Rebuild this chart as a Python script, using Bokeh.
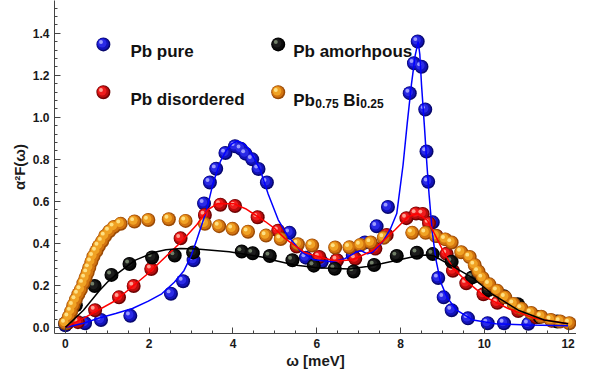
from bokeh.plotting import figure
from bokeh.models import ColumnDataSource, Range1d, FixedTicker, PrintfTickFormatter, Label
from bokeh.transform import dodge
from bokeh.embed import file_html
from bokeh.resources import INLINE

# ---------------- data ----------------
pure_x = [0.0, 0.47, 0.85, 1.55, 2.52, 2.81, 3.06, 3.31, 3.45, 3.60, 3.82, 4.05, 4.19, 4.30, 4.46,
          4.61, 4.81, 5.35, 5.74, 6.12, 6.48, 6.86, 7.15, 7.43, 7.70, 8.22, 8.32, 8.41, 8.50, 8.59,
          8.62, 8.66, 8.77, 8.90, 9.03, 9.22, 9.61, 10.08, 10.47, 11.05]
pure_y = [0.01, 0.02, 0.035, 0.055, 0.16, 0.22, 0.32, 0.59, 0.69, 0.755, 0.83, 0.862, 0.85, 0.827, 0.80,
          0.754, 0.69, 0.45, 0.332, 0.312, 0.32, 0.343, 0.404, 0.481, 0.573, 1.115, 1.257, 1.361, 1.241, 1.037,
          0.837, 0.693, 0.50, 0.235, 0.143, 0.082, 0.043, 0.02, 0.02, 0.017]

dis_x = [0.05, 0.3, 0.71, 1.28, 1.63, 2.05, 2.75, 3.33, 3.70, 4.05, 4.59, 5.08, 5.52, 6.06, 6.48, 6.92,
         7.40, 7.67, 8.14, 8.37, 8.53, 8.68, 8.86, 9.10, 9.25, 9.57, 9.98, 10.31, 10.81, 11.24, 11.61]
dis_y = [0.02, 0.025, 0.082, 0.143, 0.197, 0.278, 0.424, 0.535, 0.584, 0.578, 0.524, 0.46, 0.385, 0.335,
         0.32, 0.327, 0.375, 0.44, 0.52, 0.542, 0.54, 0.496, 0.435, 0.35, 0.27, 0.21, 0.158, 0.117, 0.078,
         0.048, 0.032]

amo_x = [0.0, 0.25, 0.70, 1.10, 1.53, 2.07, 2.61, 3.05, 4.21, 4.47, 4.88, 5.42, 5.93, 6.43, 6.88, 7.37,
         7.91, 8.39, 8.77, 9.22, 9.71, 10.10, 10.47, 10.80, 11.32, 11.74]
amo_y = [0.02, 0.105, 0.197, 0.25, 0.302, 0.333, 0.342, 0.357, 0.361, 0.353, 0.34, 0.32, 0.294, 0.279,
         0.266, 0.297, 0.34, 0.355, 0.349, 0.313, 0.238, 0.178, 0.148, 0.11, 0.05, 0.028]

alloy_x = [0.0, 0.08, 0.14, 0.19, 0.25, 0.31, 0.37, 0.43, 0.48, 0.53, 0.57, 0.62, 0.67, 0.74, 0.80, 0.88,
           0.95, 1.05, 1.16, 1.32, 1.65, 1.98, 2.47, 2.87, 3.33, 3.67, 3.99, 4.36, 4.79, 5.14, 5.55, 5.89,
           6.44, 6.78, 7.04, 7.29, 7.60, 8.28, 8.60, 8.84, 9.07, 9.22, 9.45, 9.65, 9.77, 9.86, 9.96, 10.12,
           10.31, 10.50, 10.70, 10.89, 11.12, 11.36, 11.59, 11.81, 12.03]
alloy_y = [0.02, 0.05, 0.077, 0.105, 0.132, 0.158, 0.18, 0.21, 0.235, 0.26, 0.284, 0.312, 0.338, 0.363,
           0.387, 0.41, 0.435, 0.458, 0.478, 0.493, 0.504, 0.511, 0.515, 0.507, 0.493, 0.482, 0.469, 0.455,
           0.437, 0.421, 0.396, 0.39, 0.38, 0.381, 0.392, 0.404, 0.427, 0.45, 0.45, 0.435, 0.419, 0.404,
           0.358, 0.335, 0.297, 0.266, 0.235, 0.205, 0.174, 0.143, 0.112, 0.089, 0.069, 0.051, 0.035,
           0.028, 0.02]

# fitted curves
pure_fit_x = [0.0, 0.43, 0.81, 1.2, 1.6, 1.98, 2.3, 2.6, 2.83, 3.0, 3.14, 3.37, 3.53, 3.70, 3.84, 3.98,
              4.11, 4.25, 4.38, 4.52, 4.65, 4.84, 5.08, 5.31, 5.62, 5.93, 6.36, 6.67, 6.94, 7.05, 7.21,
              7.33, 7.56, 7.75, 7.91, 8.06, 8.16, 8.26, 8.35, 8.42, 8.46, 8.50, 8.57, 8.63, 8.68, 8.76,
              8.84, 8.95, 9.11, 9.34, 9.73, 10.27, 11.05, 12.0]
pure_fit_y = [0.0, 0.02, 0.045, 0.066, 0.09, 0.125, 0.16, 0.215, 0.27, 0.34, 0.42, 0.558, 0.69, 0.79,
              0.842, 0.875, 0.888, 0.875, 0.85, 0.80, 0.75, 0.635, 0.512, 0.435, 0.362, 0.322, 0.312,
              0.327, 0.358, 0.366, 0.35, 0.358, 0.404, 0.465, 0.542, 0.773, 0.972, 1.157, 1.295, 1.36,
              1.30, 1.157, 0.957, 0.773, 0.635, 0.45, 0.327, 0.22, 0.143, 0.082, 0.035, 0.017, 0.012, 0.008]

dis_fit_x = [0.0, 0.43, 1.2, 1.98, 2.75, 3.14, 3.40, 3.64, 4.03, 4.30, 4.77, 5.0, 5.23, 5.47, 5.70,
             5.93, 6.16, 6.40, 6.63, 6.86, 7.33, 7.63, 7.87, 8.18, 8.41, 8.64, 8.80, 9.03, 9.26, 9.57,
             10.04, 10.58, 11.2, 12.0]
dis_fit_y = [0.0, 0.043, 0.128, 0.258, 0.404, 0.49, 0.56, 0.59, 0.588, 0.565, 0.504, 0.47, 0.425, 0.39,
             0.358, 0.343, 0.33, 0.318, 0.318, 0.322, 0.366, 0.42, 0.465, 0.527, 0.542, 0.51, 0.45, 0.358,
             0.281, 0.22, 0.143, 0.089, 0.043, 0.017]

amo_fit_x = [0.0, 0.43, 0.81, 1.0, 1.2, 1.67, 2.13, 2.4, 2.75, 3.14, 3.91, 4.69, 5.0, 5.47, 6.01, 6.78,
             7.2, 7.56, 8.33, 8.6, 8.80, 9.26, 9.73, 10.19, 10.5, 10.81, 11.43, 12.0]
amo_fit_y = [0.0, 0.082, 0.174, 0.215, 0.25, 0.32, 0.358, 0.37, 0.376, 0.373, 0.36, 0.335, 0.318, 0.297,
             0.284, 0.278, 0.29, 0.304, 0.337, 0.345, 0.34, 0.289, 0.235, 0.158, 0.12, 0.082, 0.035, 0.017]

series_names = ["Pb pure", "Pb amorhpous", "Pb disordered"]

# ---------------- styling constants ----------------
FONT = "Liberation Sans"
X0, X1 = -0.26, 12.2
Y0, Y1 = -0.029, 1.556
PX_X = (X1 - X0) / 522.0
PX_Y = (Y1 - Y0) / 336.0

p = figure(width=576, height=371, output_backend="svg", toolbar_location=None,
           x_range=Range1d(X0, X1), y_range=Range1d(Y0, Y1),
           min_border_left=54, min_border_right=0, min_border_top=0, min_border_bottom=35)
p.grid.visible = False
p.outline_line_color = None
p.background_fill_color = "white"


def spheres(xs, ys, dark, mid, main, light, size=14):
    src = ColumnDataSource(dict(x=xs, y=ys))
    p.scatter(x="x", y="y", source=src, size=size, fill_color=dark, line_color=None)
    p.scatter(x=dodge("x", -0.5 * PX_X), y=dodge("y", 0.5 * PX_Y), source=src,
              size=size * 0.86, fill_color=mid, line_color=None)
    p.scatter(x=dodge("x", -1.2 * PX_X), y=dodge("y", 1.2 * PX_Y), source=src,
              size=size * 0.62, fill_color=main, line_color=None)
    p.scatter(x=dodge("x", -2.4 * PX_X), y=dodge("y", 2.4 * PX_Y), source=src,
              size=size * 0.28, fill_color=light, line_color=None, fill_alpha=0.9)


BLUE = ("#08086e", "#1212b8", "#2a2ae6", "#a8a8ff")
RED = ("#6e0404", "#b80c0c", "#ee1c1c", "#ffb0a0")
BLACK = ("#000000", "#0c0c0c", "#1c1c1c", "#7a8a70")
ORANGE = ("#9a4a06", "#d27410", "#f0a224", "#ffe890")

spheres(pure_x, pure_y, *BLUE)
spheres(dis_x, dis_y, *RED)
spheres(amo_x, amo_y, *BLACK)
spheres(alloy_x, alloy_y, *ORANGE)

p.line(pure_fit_x, pure_fit_y, line_color="#0000ff", line_width=1.5)
p.line(dis_fit_x, dis_fit_y, line_color="#ff0000", line_width=1.5)
p.line(amo_fit_x, amo_fit_y, line_color="#000000", line_width=1.5)

# ---------------- legend (custom, two columns) ----------------
KEY_X = [0.907, 5.08]
KEY_Y = [1.347, 1.119]
spheres([KEY_X[0]], [KEY_Y[0]], *BLUE)
spheres([KEY_X[1]], [KEY_Y[0]], *BLACK)
spheres([KEY_X[0]], [KEY_Y[1]], *RED)
spheres([KEY_X[1]], [KEY_Y[1]], *ORANGE)


def label(text, x, y, dx, dy, size):
    p.add_layout(Label(x=x, y=y, x_offset=dx, y_offset=dy, text=text, text_font=FONT,
                       text_font_size=f"{size}px", text_font_style="bold", text_color="#111111",
                       text_baseline="alphabetic", text_align="left"))


label(series_names[0], KEY_X[0], KEY_Y[0], 27, -7, 17)
label(series_names[1], KEY_X[1], KEY_Y[0], 15, -7, 17)
label(series_names[2], KEY_X[0], KEY_Y[1], 27, -7, 17)
label("Pb", KEY_X[1], KEY_Y[1], 15, -8, 17)
label("0.75", KEY_X[1], KEY_Y[1], 37, -11.5, 12)
label("Bi", KEY_X[1], KEY_Y[1], 65, -8, 17)
label("0.25", KEY_X[1], KEY_Y[1], 82, -11.5, 12)

# ---------------- axes ----------------
xa = p.xaxis[0]
ya = p.yaxis[0]
xa.ticker = FixedTicker(ticks=[0, 2, 4, 6, 8, 10, 12],
                        minor_ticks=[i * 0.5 for i in range(0, 25)])
ya.ticker = FixedTicker(ticks=[0.0, 0.2, 0.4, 0.6, 0.8, 1.0, 1.2, 1.4],
                        minor_ticks=[i * 0.04 for i in range(0, 39)])
xa.formatter = PrintfTickFormatter(format="%d")
ya.formatter = PrintfTickFormatter(format="%.1f")
xa.axis_label = "\u03c9 [meV]"
ya.axis_label = "\u03b1\u00b2F(\u03c9)"
for ax in (xa, ya):
    ax.axis_line_color = "#444444"
    ax.major_tick_line_color = "#444444"
    ax.minor_tick_line_color = "#444444"
    ax.major_tick_in = 6
    ax.major_tick_out = 0
    ax.minor_tick_in = 3
    ax.minor_tick_out = 0
    ax.major_label_text_font = FONT
    ax.major_label_text_font_size = "12px"
    ax.major_label_text_font_style = "bold"
    ax.major_label_text_color = "#1a1a1a"
    ax.axis_label_text_font = FONT
    ax.axis_label_text_font_size = "15px"
    ax.axis_label_text_font_style = "bold"
    ax.axis_label_text_color = "#1a1a1a"
xa.major_label_standoff = 5
xa.axis_label_standoff = 1
ya.major_label_standoff = 5
ya.axis_label_standoff = 2

open("out.html", "w").write(file_html(p, INLINE))
